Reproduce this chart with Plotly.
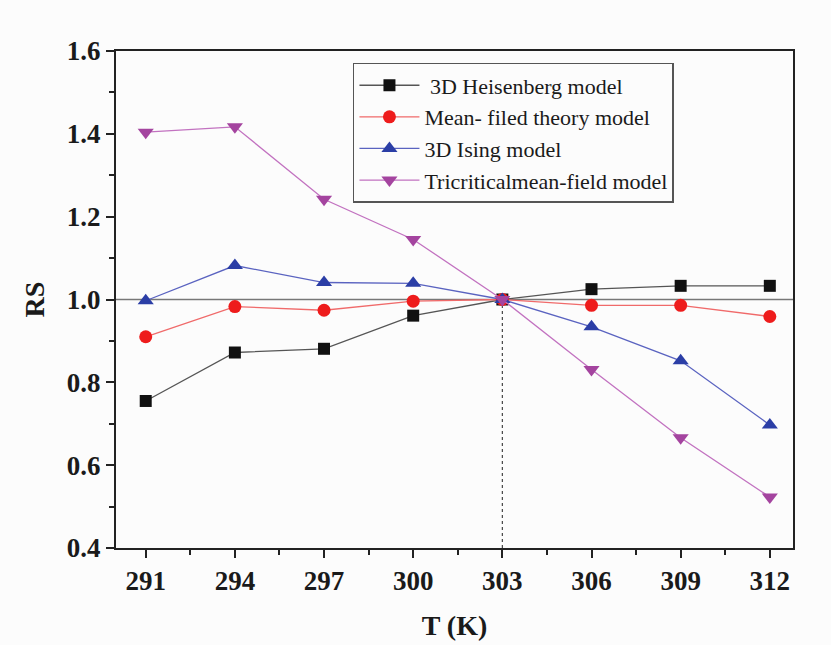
import plotly.graph_objects as go

T = [291, 294, 297, 300, 303, 306, 309, 312]
heisenberg = [0.755, 0.872, 0.881, 0.961, 1.0, 1.025, 1.033, 1.033]
mean_field = [0.910, 0.983, 0.974, 0.996, 1.0, 0.986, 0.986, 0.959]
ising = [0.997, 1.082, 1.041, 1.039, 1.0, 0.934, 0.852, 0.697]
tricritical = [1.404, 1.417, 1.242, 1.145, 1.0, 0.831, 0.666, 0.523]

names = [" 3D Heisenberg model", "Mean- filed theory model", "3D Ising model", "Tricriticalmean-field model"]
ref_value = 1.0
T_c = 303
y_ticks = [0.4, 0.6, 0.8, 1.0, 1.2, 1.4, 1.6]

FONT = "Liberation Serif, Times New Roman, serif"

series = [
    (heisenberg, names[0], "#111111", "#555555", "square", 12),
    (mean_field, names[1], "#ee1c1c", "#f06a6a", "circle", 13),
    (ising, names[2], "#2b3ea6", "#5a63c0", "triangle-up", 14),
    (tricritical, names[3], "#a4449f", "#c272c0", "triangle-down", 14),
]

fig = go.Figure()

# reference lines
fig.add_shape(type="line", xref="paper", x0=0, x1=1, yref="y", y0=ref_value, y1=ref_value,
              line=dict(color="#777777", width=1.5), layer="below")
fig.add_shape(type="line", xref="x", x0=T_c, x1=T_c, yref="y", y0=y_ticks[0], y1=ref_value,
              line=dict(color="#444444", width=1.2, dash="dot"), layer="below")

for vals, name, mcol, lcol, sym, msize in series:
    fig.add_trace(go.Scatter(
        x=T, y=vals, name=name, mode="lines+markers",
        line=dict(color=lcol, width=1.3),
        marker=dict(symbol=sym, size=msize, color=mcol, line=dict(width=0)),
    ))

fig.update_layout(
    width=831, height=645,
    margin=dict(l=116, r=38, t=51, b=97),
    paper_bgcolor="#fcfcfc",
    plot_bgcolor="#fcfcfc",
    font=dict(family=FONT, color="#1a1a1a"),
    showlegend=True,
    legend=dict(
        x=0.35, y=0.976, xanchor="left", yanchor="top",
        bgcolor="rgba(252,252,252,1)", bordercolor="#555555", borderwidth=1.5,
        font=dict(family=FONT, size=22, color="#1a1a1a"),
        itemwidth=60, tracegroupgap=0,
    ),
)

fig.update_xaxes(
    range=[290.0, 312.78], automargin=False,
    tickmode="array", tickvals=T, ticktext=[str(t) for t in T],
    ticks="outside", ticklen=8, tickwidth=2, tickcolor="#222222",
    minor=dict(dtick=1.5, tick0=291, ticks="outside", ticklen=5, tickwidth=2, tickcolor="#222222"),
    showline=True, linecolor="#222222", linewidth=2, mirror=True,
    showgrid=False, zeroline=False,
    tickfont=dict(family=FONT, size=27, weight="bold", color="#1a1a1a"),
    title=dict(text="T (K)", font=dict(family=FONT, size=28, weight="bold", color="#1a1a1a"), standoff=20),
)
fig.update_yaxes(
    range=[0.4, 1.6], automargin=False,
    tickmode="array", tickvals=y_ticks, ticktext=[f"{v:.1f}" for v in y_ticks],
    ticks="outside", ticklen=8, tickwidth=2, tickcolor="#222222",
    minor=dict(dtick=0.1, tick0=0.4, ticks="outside", ticklen=5, tickwidth=2, tickcolor="#222222"),
    showline=True, linecolor="#222222", linewidth=2, mirror=True,
    showgrid=False, zeroline=False,
    tickfont=dict(family=FONT, size=27, weight="bold", color="#1a1a1a"),
    title=dict(text="RS", font=dict(family=FONT, size=28, weight="bold", color="#1a1a1a"), standoff=14),
)

fig.write_html("out.html")
